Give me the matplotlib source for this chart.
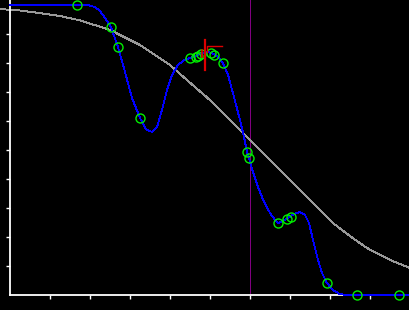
import matplotlib
matplotlib.use("Agg")
import matplotlib.pyplot as plt

# sampled points (green circles)
pts_x = [1.675, 2.525, 2.7, 3.25, 4.5, 4.65, 4.7, 4.775, 5.025, 5.1, 5.325,
         5.925, 5.975, 6.7, 6.925, 7.025, 7.925, 8.675, 9.725]
pts_y = [10.0, 9.24, 8.55, 6.10, 8.17, 8.21, 8.24, 8.31, 8.34, 8.28, 8.0,
         4.93, 4.72, 2.48, 2.62, 2.69, 0.41, 0.0, 0.0]

# smooth curve through the points (blue)
fit_x = [0.0, 1.95, 2.125, 2.25, 2.375, 2.525, 2.7, 2.875, 3.05, 3.25, 3.4,
         3.55, 3.675, 3.8, 3.925, 4.05, 4.2, 4.35, 4.5, 4.75, 4.95, 5.1,
         5.225, 5.325, 5.45, 5.6, 5.75, 5.85, 5.925, 5.975, 6.075, 6.2,
         6.35, 6.5, 6.625, 6.7, 6.825, 6.95, 7.1, 7.25, 7.375, 7.475,
         7.575, 7.7, 7.8, 7.925, 8.075, 8.25, 8.4, 10.0]
fit_y = [10.0, 10.0, 9.93, 9.79, 9.55, 9.24, 8.55, 7.69, 6.79, 6.10, 5.72,
         5.62, 5.79, 6.38, 7.07, 7.59, 7.93, 8.10, 8.17, 8.31, 8.38, 8.31,
         8.17, 8.0, 7.59, 6.83, 6.03, 5.45, 4.93, 4.72, 4.24, 3.72,
         3.21, 2.83, 2.59, 2.48, 2.55, 2.66, 2.79, 2.86, 2.76, 2.48,
         1.90, 1.21, 0.76, 0.41, 0.17, 0.03, 0.0, 0.0]

# broad trend curve (gray)
trend_x = [-0.25, 0.25, 0.75, 1.25, 1.75, 2.5, 3.25, 4.0, 4.425, 5.0, 5.55,
           6.0, 6.5, 7.0, 7.5, 7.75, 8.075, 8.5, 8.925, 9.5, 10.0]
trend_y = [9.86, 9.81, 9.72, 9.62, 9.47, 9.14, 8.62, 7.93, 7.41, 6.72, 5.97,
           5.34, 4.66, 3.97, 3.28, 2.93, 2.48, 2.03, 1.62, 1.21, 0.93]

# red marker strokes
mark_a_x = [4.8, 4.8]
mark_a_y = [8.21, 8.45]
mark_b_x = [4.875, 4.875]
mark_b_y = [8.79, 7.76]
mark_c_x = [5.3, 4.925, 4.925]
mark_c_y = [8.59, 8.59, 8.38]

cursor_x = 6.0

fig = plt.figure(figsize=(4.1, 3.1), dpi=100, facecolor="black")
ax = fig.add_axes([10 / 410, 15 / 310, 400 / 410, 295 / 310])
ax.set_facecolor("black")

ax.plot(trend_x, trend_y, color="#999999", lw=0.7, clip_on=False, zorder=2,
        antialiased=False)
ax.axvline(cursor_x, color="#800080", lw=0.7, zorder=1, antialiased=False)
ax.plot(fit_x, fit_y, color="#0000ff", lw=0.6, zorder=3, clip_on=False,
        antialiased=False)
ax.plot(pts_x, pts_y, "o", ms=6.5, mfc="none", mec="#00ee00", mew=1.0,
        zorder=4, clip_on=False)
for mx, my, w in [(mark_a_x, mark_a_y, 1.2), (mark_b_x, mark_b_y, 1.6),
                  (mark_c_x, mark_c_y, 1.0)]:
    ax.plot(mx, my, color="#dd0000", lw=w, zorder=5)

ax.set_xlim(0, 10)
ax.set_ylim(0, 295 / 29)
ax.set_xticks(range(1, 10))
ax.set_yticks(range(1, 10))
ax.set_xticklabels([])
ax.set_yticklabels([])
ax.tick_params(colors="white", direction="out", length=3, width=1)
for side in ["top", "right"]:
    ax.spines[side].set_visible(False)
for side in ["left", "bottom"]:
    ax.spines[side].set_color("white")
    ax.spines[side].set_linewidth(1.3)

fig.savefig("out.png", dpi=100, facecolor="black")
